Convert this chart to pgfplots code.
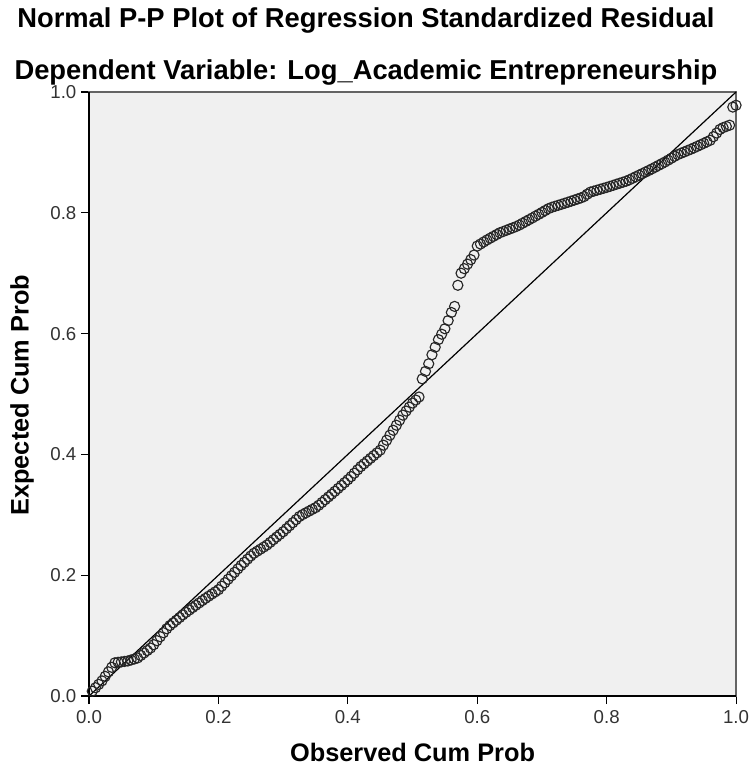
\documentclass[border=0pt]{standalone}
\usepackage{fontspec}
\setmainfont{Liberation Sans}
\usepackage{pgfplots}
\usepackage{pgfplotstable}
\pgfplotsset{compat=1.18}
\definecolor{bg}{RGB}{240,240,240}
\definecolor{frame}{RGB}{100,100,100}

\pgfplotstableread{
x y
0.005 0.0080
0.010 0.0137
0.015 0.0193
0.020 0.0250
0.025 0.0325
0.030 0.0400
0.035 0.0475
0.040 0.0550
0.045 0.0558
0.050 0.0565
0.055 0.0573
0.060 0.0580
0.065 0.0597
0.070 0.0613
0.075 0.0630
0.080 0.0671
0.085 0.0712
0.090 0.0753
0.095 0.0794
0.100 0.0850
0.105 0.0916
0.110 0.0982
0.115 0.1048
0.120 0.1114
0.125 0.1167
0.130 0.1211
0.135 0.1255
0.140 0.1299
0.145 0.1343
0.150 0.1385
0.155 0.1424
0.160 0.1463
0.165 0.1502
0.170 0.1540
0.175 0.1579
0.180 0.1617
0.185 0.1653
0.190 0.1689
0.195 0.1724
0.200 0.1760
0.205 0.1818
0.210 0.1875
0.215 0.1933
0.220 0.1990
0.225 0.2048
0.230 0.2105
0.235 0.2161
0.240 0.2213
0.245 0.2266
0.250 0.2318
0.255 0.2364
0.260 0.2398
0.265 0.2432
0.270 0.2466
0.275 0.2500
0.280 0.2544
0.285 0.2588
0.290 0.2632
0.295 0.2676
0.300 0.2720
0.305 0.2770
0.310 0.2820
0.315 0.2870
0.320 0.2920
0.325 0.2970
0.330 0.3003
0.335 0.3032
0.340 0.3061
0.345 0.3090
0.350 0.3118
0.355 0.3158
0.360 0.3204
0.365 0.3250
0.370 0.3296
0.375 0.3342
0.380 0.3389
0.385 0.3437
0.390 0.3485
0.395 0.3533
0.400 0.3581
0.405 0.3632
0.410 0.3689
0.415 0.3745
0.420 0.3799
0.425 0.3844
0.430 0.3890
0.435 0.3935
0.440 0.3980
0.445 0.4025
0.450 0.4070
0.455 0.4153
0.460 0.4235
0.465 0.4318
0.470 0.4400
0.475 0.4483
0.480 0.4567
0.485 0.4650
0.490 0.4717
0.495 0.4783
0.500 0.4850
0.505 0.4900
0.510 0.4950
0.515 0.5250
0.520 0.5375
0.525 0.5500
0.530 0.5650
0.535 0.5775
0.540 0.5900
0.545 0.5990
0.550 0.6080
0.555 0.6215
0.560 0.6350
0.565 0.6450
0.570 0.6800
0.575 0.7000
0.580 0.7075
0.585 0.7150
0.590 0.7225
0.595 0.7300
0.600 0.7450
0.605 0.7483
0.610 0.7517
0.615 0.7550
0.620 0.7580
0.625 0.7610
0.630 0.7640
0.635 0.7670
0.640 0.7690
0.645 0.7710
0.650 0.7731
0.655 0.7751
0.660 0.7772
0.665 0.7797
0.670 0.7827
0.675 0.7856
0.680 0.7885
0.685 0.7914
0.690 0.7945
0.695 0.7975
0.700 0.8006
0.705 0.8037
0.710 0.8068
0.715 0.8090
0.720 0.8107
0.725 0.8123
0.730 0.8140
0.735 0.8157
0.740 0.8174
0.745 0.8192
0.750 0.8210
0.755 0.8228
0.760 0.8246
0.765 0.8268
0.770 0.8308
0.775 0.8343
0.780 0.8358
0.785 0.8374
0.790 0.8389
0.795 0.8405
0.800 0.8420
0.805 0.8437
0.810 0.8454
0.815 0.8472
0.820 0.8489
0.825 0.8506
0.830 0.8523
0.835 0.8545
0.840 0.8571
0.845 0.8597
0.850 0.8623
0.855 0.8648
0.860 0.8674
0.865 0.8700
0.870 0.8727
0.875 0.8755
0.880 0.8784
0.885 0.8812
0.890 0.8840
0.895 0.8872
0.900 0.8903
0.905 0.8935
0.910 0.8964
0.915 0.8986
0.920 0.9008
0.925 0.9030
0.930 0.9052
0.935 0.9075
0.940 0.9100
0.945 0.9125
0.950 0.9150
0.955 0.9175
0.960 0.9200
0.965 0.9260
0.970 0.9320
0.975 0.9380
0.980 0.9410
0.985 0.9430
0.990 0.9450
0.995 0.9750
1.000 0.9780
}\pp

\begin{document}
\begin{tikzpicture}
\begin{axis}[
  width=485.25pt, height=453pt, scale only axis,
  xmin=0, xmax=1, ymin=0, ymax=1,
  xtick={0,0.2,0.4,0.6,0.8,1.0},
  ytick={0,0.2,0.4,0.6,0.8,1.0},
  xticklabel style={/pgf/number format/.cd,fixed,fixed zerofill,precision=1},
  yticklabel style={/pgf/number format/.cd,fixed,fixed zerofill,precision=1},
  /pgf/number format/assume math mode=true,
  ticklabel style={font=\fontsize{14}{15}\selectfont, text=black!80},
  tick align=outside, tick pos=left,
  major tick length=6pt,
  tick style={black, line width=0.8pt},
  axis line style={draw=frame, line width=0.9pt},
  axis background/.style={fill=bg},
  xticklabel shift=1pt,
  clip=false,
]
\addplot[black, line width=0.9pt] coordinates {(0,0) (1,1)};
\addplot[only marks, mark=o, mark size=3.8pt, mark options={black!85, line width=0.85pt}] table[x=x,y=y] {\pp};
\draw[black, line width=1.2pt] (rel axis cs:0,1) -- (rel axis cs:0,0) -- (rel axis cs:1,0);
\node[font=\fontsize{20.5}{22}\bfseries\selectfont] at (rel axis cs:0.428,1.119) {Normal P-P Plot of Regression Standardized Residual};
\node[font=\fontsize{20.5}{22}\bfseries\selectfont] at (rel axis cs:0.428,1.033) {Dependent Variable: Log\_Academic Entrepreneurship};
\node[font=\fontsize{19}{20}\bfseries\selectfont, rotate=90] at (rel axis cs:-0.1036,0.498) {Expected Cum Prob};
\node[font=\fontsize{19}{20}\bfseries\selectfont] at (rel axis cs:0.5,-0.0927) {Observed Cum Prob};
\coordinate (bl) at (rel axis cs:-0.1376,-0.1225);
\coordinate (tr) at (rel axis cs:1.0263,1.1523);
\end{axis}
\pgfresetboundingbox
\path[use as bounding box] (bl) rectangle (tr);
\end{tikzpicture}
\end{document}
